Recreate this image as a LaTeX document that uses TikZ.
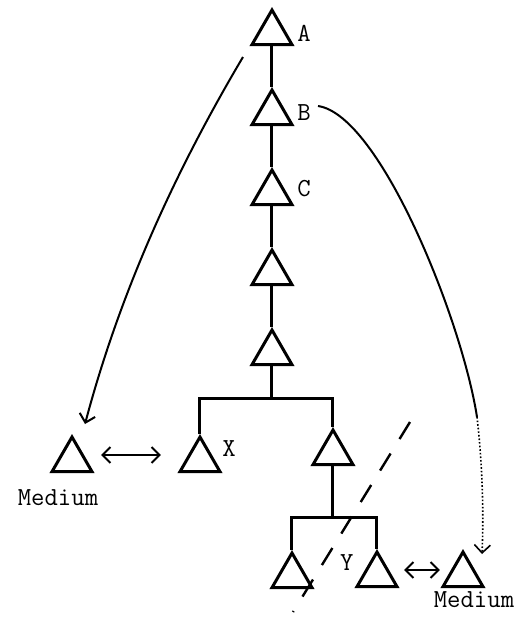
\documentclass[tikz,border=0pt]{standalone}
\usetikzlibrary{positioning,arrows.meta,shapes.geometric}

\begin{document}
\begin{tikzpicture}[x=0.5pt, y=-0.5pt, node distance=20.5pt,
  every node/.style={font=\ttfamily\fontsize{13}{15}\selectfont},
  tri/.style={draw,regular polygon,regular polygon sides=3,minimum size=23pt,inner sep=0pt,line width=1.5pt},
  lbl/.style={inner sep=0pt},
  stem/.style={line width=1.5pt},
  move/.style={line width=1pt},
  >={Straight Barb[length=4pt,width=8pt]}]
  \useasboundingbox (0,0) rectangle (523,618);
  % the chain A ... E
  \node[tri] (tA) at (272,33) {};
  \node[tri,below=of tA] (tB) {};
  \node[tri,below=of tB] (tC) {};
  \node[tri,below=of tC] (tD) {};
  \node[tri,below=of tD] (tE) {};
  \node[lbl,right=5pt of tA] (lA) {A};
  \node[lbl,right=5pt of tB] (lB) {B};
  \node[lbl,right=5pt of tC,yshift=2pt] (lC) {C};
  % the branches
  \node[tri] (tX) at (200,460) {};
  \node[tri] (tF) at (333,453) {};
  \node[tri] (tG) at (292,576) {};
  \node[tri] (tY) at (377,575) {};
  \node[lbl,right=3.5pt of tX,yshift=5.5pt] (lX) {X};
  \node[lbl,left=4pt of tY,yshift=6pt] (lY) {Y};
  % the media
  \node[tri] (mL) at (72,460) {};
  \node[tri] (mR) at (463,575) {};
  \node[lbl,below=8pt of mL,xshift=-7pt] (medL) {Medium};
  \node[lbl,below=1.5pt of mR,xshift=5.5pt] (medR) {Medium};
  \coordinate (fork1) at (272,398);
  \coordinate (fork2) at (333,517);
  \draw[stem] (tA.south) -- (tB.north);
  \draw[stem] (tB.south) -- (tC.north);
  \draw[stem] (tC.south) -- (tD.north);
  \draw[stem] (tD.south) -- (tE.north);
  \draw[stem] (tE.south) -- (fork1);
  \draw[stem] (tX.north) |- (fork1) -| (tF.north);
  \draw[stem] (tF.south) -- (fork2);
  \draw[stem] (tG.north) |- (fork2) -| (tY.north);
  \draw[move,<->,shorten <=7pt,shorten >=12pt] ([yshift=2.5pt]mL.east) -- ([yshift=2.5pt]tX.west);
  \draw[move,<->,shorten <=6pt,shorten >=4pt] ([yshift=2.5pt]tY.east) -- ([yshift=2.5pt]mR.west);
  % moves to the media
  \coordinate (a0) at (243,57);
  \draw[move,->] (a0) .. controls (170,180) and (118,300) .. ([xshift=6.5pt,yshift=5pt]mL.north);
  \coordinate (b0) at (318,106);
  \coordinate (b1) at (477,417);
  \draw[move] (b0) .. controls (380,115) and (462,320) .. (b1);
  \draw[line width=0.8pt,densely dotted,->] (b1) .. controls (482,460) and (484,510) .. ([xshift=9.5pt,yshift=-2.5pt]mR.north);
  % the cut
  \coordinate (cut1) at (410,422);
  \coordinate (cut2) at (293,612);
  \draw[line width=1.2pt,dash pattern=on 10pt off 8.5pt] (cut1) -- (cut2);
\end{tikzpicture}
\end{document}
